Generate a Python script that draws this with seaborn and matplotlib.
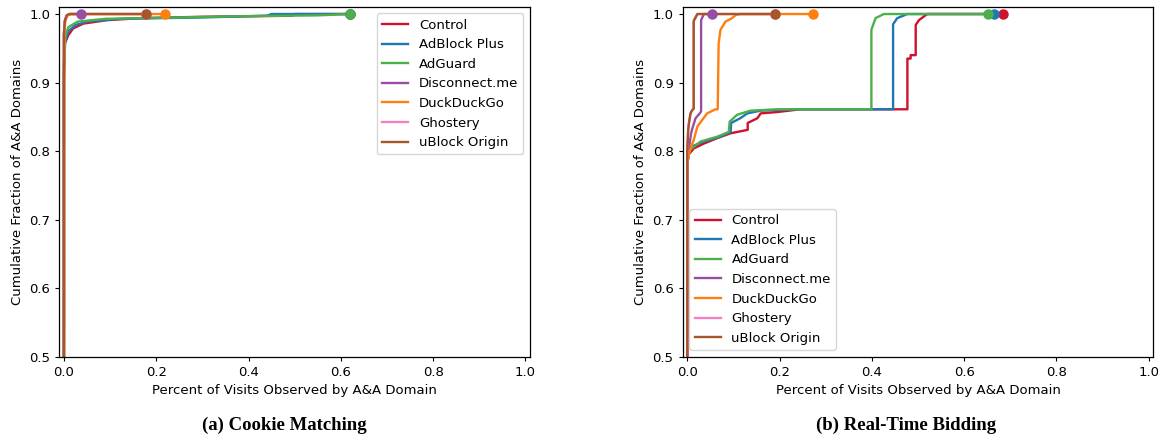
import numpy as np
import pandas as pd
import matplotlib
matplotlib.use("Agg")
import matplotlib.pyplot as plt
import seaborn as sns

# ---------------- data: (a) Cookie Matching ----------------
series_names = ["Control", "AdBlock Plus", "AdGuard", "Disconnect.me",
                "DuckDuckGo", "Ghostery", "uBlock Origin"]
series_colors = ["#d0102d", "#1f78b4", "#4daf4a", "#984ea3",
                 "#ff7f0e", "#f781bf", "#a65628"]

cm_control_x = [0.0, 0.0, 0.002, 0.0094, 0.020, 0.042, 0.093, 0.165, 0.30, 0.494, 0.50, 0.619]
cm_control_y = [0.0, 0.90, 0.957, 0.969, 0.979, 0.986, 0.991, 0.994, 0.996, 0.9975, 1.0, 1.0]
cm_abp_x = [0.0, 0.0, 0.003, 0.010, 0.025, 0.050, 0.120, 0.30, 0.44, 0.45, 0.619]
cm_abp_y = [0.0, 0.92, 0.962, 0.975, 0.984, 0.989, 0.993, 0.995, 0.9975, 1.0, 1.0]
cm_adguard_x = [0.0, 0.0, 0.003, 0.010, 0.030, 0.090, 0.25, 0.40, 0.55, 0.619]
cm_adguard_y = [0.0, 0.93, 0.968, 0.981, 0.989, 0.993, 0.995, 0.997, 0.998, 1.0]
cm_disconnect_x = [0.0, 0.0, 0.002, 0.006, 0.012, 0.038]
cm_disconnect_y = [0.0, 0.97, 0.99, 0.998, 1.0, 1.0]
cm_ddg_x = [0.0, 0.001, 0.003, 0.008, 0.015, 0.220]
cm_ddg_y = [0.0, 0.97, 0.99, 0.998, 1.0, 1.0]
cm_ghostery_x = [0.0, 0.0, 0.002, 0.006, 0.012, 0.178]
cm_ghostery_y = [0.0, 0.97, 0.99, 0.998, 1.0, 1.0]
cm_ublock_x = [0.0, 0.0, 0.002, 0.006, 0.012, 0.178]
cm_ublock_y = [0.0, 0.97, 0.99, 0.998, 1.0, 1.0]

# ---------------- data: (b) Real-Time Bidding ----------------
rtb_control_x = [0.0, 0.0, 0.003, 0.0143, 0.036, 0.065, 0.094, 0.131, 0.131, 0.152,
                 0.159, 0.195, 0.245, 0.477, 0.477, 0.484, 0.484, 0.495, 0.495, 0.502, 0.52, 0.685]
rtb_control_y = [0.0, 0.78, 0.795, 0.804, 0.811, 0.819, 0.826, 0.831, 0.841, 0.848,
                 0.855, 0.857, 0.861, 0.861, 0.935, 0.935, 0.940, 0.940, 0.984, 0.991, 1.0, 1.0]
rtb_abp_x = [0.0, 0.0, 0.003, 0.007, 0.036, 0.072, 0.094, 0.095, 0.115, 0.130, 0.159,
             0.231, 0.446, 0.446, 0.455, 0.477, 0.664]
rtb_abp_y = [0.0, 0.78, 0.797, 0.806, 0.814, 0.821, 0.828, 0.841, 0.848, 0.855, 0.859,
             0.861, 0.861, 0.985, 0.994, 1.0, 1.0]
rtb_adguard_x = [0.0, 0.0, 0.002, 0.006, 0.029, 0.065, 0.090, 0.092, 0.108, 0.137, 0.195,
                 0.399, 0.399, 0.408, 0.426, 0.652]
rtb_adguard_y = [0.0, 0.78, 0.792, 0.802, 0.814, 0.821, 0.828, 0.843, 0.853, 0.859, 0.861,
                 0.861, 0.977, 0.994, 1.0, 1.0]
rtb_disconnect_x = [0.0, 0.0, 0.005, 0.008, 0.011, 0.018, 0.027, 0.030, 0.030, 0.036, 0.054]
rtb_disconnect_y = [0.0, 0.79, 0.81, 0.825, 0.833, 0.848, 0.855, 0.858, 0.991, 1.0, 1.0]
rtb_ddg_x = [0.0, 0.0, 0.004, 0.011, 0.014, 0.022, 0.032, 0.043, 0.061, 0.066, 0.068,
             0.072, 0.083, 0.097, 0.105, 0.115, 0.273]
rtb_ddg_y = [0.0, 0.78, 0.797, 0.811, 0.816, 0.836, 0.845, 0.855, 0.861, 0.861, 0.957,
             0.977, 0.989, 0.994, 0.9985, 1.0, 1.0]
rtb_ghostery_x = [0.0, 0.0, 0.002, 0.0035, 0.007, 0.011, 0.014, 0.014, 0.022, 0.191]
rtb_ghostery_y = [0.0, 0.80, 0.83, 0.84, 0.855, 0.86, 0.862, 0.99, 1.0, 1.0]
rtb_ublock_x = [0.0, 0.0, 0.002, 0.0035, 0.007, 0.011, 0.014, 0.014, 0.022, 0.191]
rtb_ublock_y = [0.0, 0.80, 0.83, 0.84, 0.855, 0.86, 0.862, 0.99, 1.0, 1.0]

x_ticks = [0.0, 0.2, 0.4, 0.6, 0.8, 1.0]
y_ticks = [0.5, 0.6, 0.7, 0.8, 0.9, 1.0]
x_label = "Percent of Visits Observed by A&A Domain"
y_label = "Cumulative Fraction of A&A Domains"
captions = ["(a) Cookie Matching", "(b) Real-Time Bidding"]

cm_series = [(cm_control_x, cm_control_y), (cm_abp_x, cm_abp_y), (cm_adguard_x, cm_adguard_y),
             (cm_disconnect_x, cm_disconnect_y), (cm_ddg_x, cm_ddg_y),
             (cm_ghostery_x, cm_ghostery_y), (cm_ublock_x, cm_ublock_y)]
rtb_series = [(rtb_control_x, rtb_control_y), (rtb_abp_x, rtb_abp_y), (rtb_adguard_x, rtb_adguard_y),
              (rtb_disconnect_x, rtb_disconnect_y), (rtb_ddg_x, rtb_ddg_y),
              (rtb_ghostery_x, rtb_ghostery_y), (rtb_ublock_x, rtb_ublock_y)]

FS = 9.5
plt.rcParams["font.family"] = ["DejaVu Sans"]
plt.rcParams["font.size"] = FS
plt.rcParams["xtick.major.size"] = 3.0
plt.rcParams["ytick.major.size"] = 3.0
plt.rcParams["axes.linewidth"] = 0.9

fig = plt.figure(figsize=(11.58, 4.40), dpi=100)
ax_a = fig.add_axes([0.0512, 0.1893, 0.4065, 0.7955])
ax_b = fig.add_axes([0.5895, 0.1893, 0.4065, 0.7955])


def draw(ax, series, legend_loc):
    for (xs, ys), name, col in zip(series, series_names, series_colors):
        df = pd.DataFrame({"x": xs, "y": ys})
        sns.lineplot(data=df, x="x", y="y", sort=False, estimator=None,
                     color=col, linewidth=1.7, label=name, ax=ax)
    for (xs, ys), col in zip(series, series_colors):
        ax.plot(xs[-1], ys[-1], marker="o", markersize=6.5, color=col,
                linestyle="none", zorder=3)
    ax.set_xlim(-0.01, 1.01)
    ax.set_ylim(0.5, 1.0107)
    ax.set_xticks(x_ticks)
    ax.set_yticks(y_ticks)
    ax.tick_params(labelsize=FS)
    ax.set_xlabel(x_label, fontsize=FS)
    ax.set_ylabel(y_label, fontsize=FS)
    ax.legend(loc=legend_loc, fontsize=FS)


draw(ax_a, cm_series, "upper right")
draw(ax_b, rtb_series, "lower left")

caption_x = [284 / 1158, 906 / 1158]
for cx, cap in zip(caption_x, captions):
    fig.text(cx, 0.033, cap, ha="center", va="center",
             fontsize=13.5, fontweight="bold", family=["Liberation Serif", "DejaVu Serif"])

fig.savefig("out.png", dpi=100)
